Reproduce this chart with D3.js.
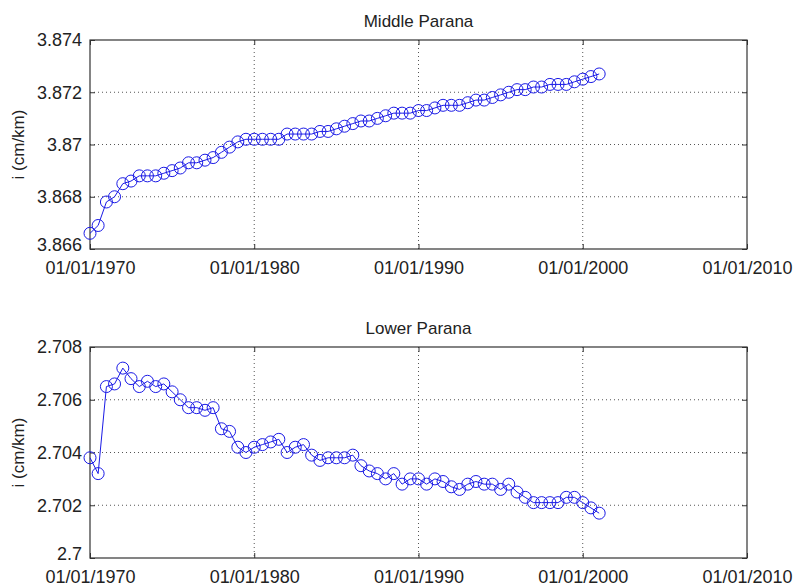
<!DOCTYPE html>
<html>
<head>
<meta charset="utf-8">
<script src="https://cdn.jsdelivr.net/npm/d3@7"></script>
<style>
	body { margin: 0; background: #fff; }
	svg { display: block; }
	text { font-family: "Liberation Sans", Arial, sans-serif; fill: #222; }
	.grid line { stroke: #555; stroke-width: 1; stroke-dasharray: 1,3; }
	.axis path, .axis line { stroke: #333; }
</style>
</head>
<body>
<div id="viz"><svg width="797" height="587"></svg></div>
<script>
// sample dates, half-yearly
const dates = [
	'1970-01', '1970-07', '1971-01', '1971-07', '1972-01', '1972-07', '1973-01', '1973-07',
	'1974-01', '1974-07', '1975-01', '1975-07', '1976-01', '1976-07', '1977-01', '1977-07',
	'1978-01', '1978-07', '1979-01', '1979-07', '1980-01', '1980-07', '1981-01', '1981-07',
	'1982-01', '1982-07', '1983-01', '1983-07', '1984-01', '1984-07', '1985-01', '1985-07',
	'1986-01', '1986-07', '1987-01', '1987-07', '1988-01', '1988-07', '1989-01', '1989-07',
	'1990-01', '1990-07', '1991-01', '1991-07', '1992-01', '1992-07', '1993-01', '1993-07',
	'1994-01', '1994-07', '1995-01', '1995-07', '1996-01', '1996-07', '1997-01', '1997-07',
	'1998-01', '1998-07', '1999-01', '1999-07', '2000-01', '2000-07', '2001-01'
];

const middleParana = [
	3.8666, 3.8669, 3.8678, 3.8680, 3.8685, 3.8686, 3.8688, 3.8688,
	3.8688, 3.8689, 3.8690, 3.8691, 3.8693, 3.8693, 3.8694, 3.8695,
	3.8697, 3.8699, 3.8701, 3.8702, 3.8702, 3.8702, 3.8702, 3.8702,
	3.8704, 3.8704, 3.8704, 3.8704, 3.8705, 3.8705, 3.8706, 3.8707,
	3.8708, 3.8709, 3.8709, 3.8710, 3.8711, 3.8712, 3.8712, 3.8712,
	3.8713, 3.8713, 3.8714, 3.8715, 3.8715, 3.8715, 3.8716, 3.8717,
	3.8717, 3.8718, 3.8719, 3.8720, 3.8721, 3.8721, 3.8722, 3.8722,
	3.8723, 3.8723, 3.8723, 3.8724, 3.8725, 3.8726, 3.8727
];

const lowerParana = [
	2.7038, 2.7032, 2.7065, 2.7066, 2.7072, 2.7068, 2.7065, 2.7067,
	2.7065, 2.7066, 2.7063, 2.7060, 2.7057, 2.7057, 2.7056, 2.7057,
	2.7049, 2.7048, 2.7042, 2.7040, 2.7042, 2.7043, 2.7044, 2.7045,
	2.7040, 2.7042, 2.7043, 2.7039, 2.7037, 2.7038, 2.7038, 2.7038,
	2.7039, 2.7035, 2.7033, 2.7032, 2.7030, 2.7032, 2.7028, 2.7030,
	2.7030, 2.7028, 2.7030, 2.7029, 2.7027, 2.7026, 2.7028, 2.7029,
	2.7028, 2.7028, 2.7026, 2.7028, 2.7025, 2.7023, 2.7021, 2.7021,
	2.7021, 2.7021, 2.7023, 2.7023, 2.7021, 2.7019, 2.7017
];

const xTickYears = [1970, 1980, 1990, 2000, 2010];
const middleTicks = [3.866, 3.868, 3.870, 3.872, 3.874];
const lowerTicks = [2.700, 2.702, 2.704, 2.706, 2.708];

const svg = d3.select('#viz svg');
const parseDate = d3.timeParse('%Y-%m');
const fmtDate = d3.timeFormat('%m/%d/%Y');

function drawPanel (cfg) {
	const x = d3.scaleTime()
		.domain([new Date(1970, 0, 1), new Date(2010, 0, 1)])
		.range([cfg.left, cfg.right]);
	const y = d3.scaleLinear()
		.domain(d3.extent(cfg.yTicks))
		.range([cfg.bottom, cfg.top]);
	const xTicks = xTickYears.map(yr => new Date(yr, 0, 1));
	const g = svg.append('g');

	// grid (dotted)
	const grid = g.append('g').classed('grid', true);
	grid.selectAll('.gx')
		.data(xTicks.slice(1, -1))
		.enter().append('line')
			.attr('x1', d => x(d)).attr('x2', d => x(d))
			.attr('y1', cfg.top).attr('y2', cfg.bottom);
	grid.selectAll('.gy')
		.data(cfg.yTicks.slice(1, -1))
		.enter().append('line')
			.attr('x1', cfg.left).attr('x2', cfg.right)
			.attr('y1', d => y(d)).attr('y2', d => y(d));

	// axes with inward ticks, on all four sides
	const fmtY = d => String(+d.toFixed(3));
	const bottomAx = g.append('g').classed('axis', true)
		.attr('transform', `translate(0,${cfg.bottom})`)
		.call(d3.axisBottom(x).tickValues(xTicks).tickFormat(fmtDate).tickSizeInner(-5).tickSizeOuter(0));
	bottomAx.selectAll('text').attr('y', 12).style('font-size', '18px');
	g.append('g').classed('axis', true)
		.attr('transform', `translate(0,${cfg.top})`)
		.call(d3.axisTop(x).tickValues(xTicks).tickFormat('').tickSizeInner(-5).tickSizeOuter(0));
	const leftAx = g.append('g').classed('axis', true)
		.attr('transform', `translate(${cfg.left},0)`)
		.call(d3.axisLeft(y).tickValues(cfg.yTicks).tickFormat(fmtY).tickSizeInner(-5).tickSizeOuter(0));
	leftAx.selectAll('text')
		.attr('x', -8)
		.attr('y', (d, i) => i === 0 ? -4 : 0)
		.style('font-size', '18px');
	g.append('g').classed('axis', true)
		.attr('transform', `translate(${cfg.right},0)`)
		.call(d3.axisRight(y).tickValues(cfg.yTicks).tickFormat('').tickSizeInner(-5).tickSizeOuter(0));
	g.selectAll('.axis .domain').remove();

	// box
	g.append('rect')
		.attr('x', cfg.left).attr('y', cfg.top)
		.attr('width', cfg.right - cfg.left).attr('height', cfg.bottom - cfg.top)
		.attr('fill', 'none').attr('stroke', '#333').attr('stroke-width', 1.2);

	// series
	const pts = dates.map((d, i) => [parseDate(d), cfg.values[i]]);
	g.append('path')
		.datum(pts)
		.attr('fill', 'none')
		.attr('stroke', '#1a1ae6')
		.attr('stroke-width', 1)
		.attr('d', d3.line().x(d => x(d[0])).y(d => y(d[1])));
	g.append('g').selectAll('circle')
		.data(pts)
		.enter().append('circle')
			.attr('cx', d => x(d[0]))
			.attr('cy', d => y(d[1]))
			.attr('r', 6)
			.attr('fill', 'none')
			.attr('stroke', '#1a1ae6')
			.attr('stroke-width', 1);

	// title + y label
	g.append('text')
		.attr('x', (cfg.left + cfg.right) / 2)
		.attr('y', cfg.top - 13)
		.attr('text-anchor', 'middle')
		.style('font-size', '17px')
		.text(cfg.title);
	g.append('text')
		.attr('transform', `translate(24,${(cfg.top + cfg.bottom) / 2}) rotate(-90)`)
		.attr('text-anchor', 'middle')
		.style('font-size', '17px')
		.text('i (cm/km)');
}

drawPanel({ title: 'Middle Parana', values: middleParana, yTicks: middleTicks,
	left: 90, right: 747, top: 40, bottom: 249 });
drawPanel({ title: 'Lower Parana', values: lowerParana, yTicks: lowerTicks,
	left: 90, right: 747, top: 347, bottom: 558 });
</script>
</body>
</html>
